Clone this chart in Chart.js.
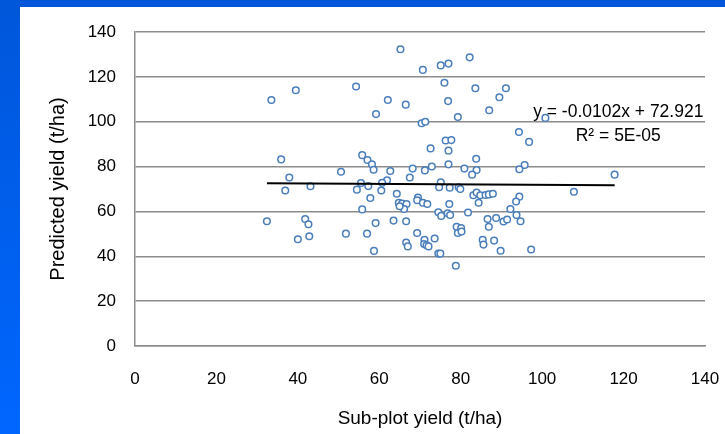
<!DOCTYPE html>
<html>
<head>
<meta charset="utf-8">
<script src="https://cdn.jsdelivr.net/npm/chart.js@4/dist/chart.umd.min.js"></script>
<style>
  html, body { margin: 0; padding: 0; }
  body { width: 725px; height: 434px; background: #0057da; position: relative; overflow: hidden; }
  #leftBand { position: absolute; left: 0; top: 7px; width: 20px; height: 427px; background: linear-gradient(#0057da, #0066ff); }
  #box { position: absolute; left: 20px; top: 7px; width: 705px; height: 427px; background: #fff; }
</style>
</head>
<body>
<div id="leftBand"></div>
<div id="box"><canvas id="myChart" width="705" height="427"></canvas></div>
<script>
// sub-plot yield (x) and predicted yield (y), t/ha
const subPlotYield = [
  33.5, 39.5, 54.3, 65.2, 70.7, 75.1, 77.0, 82.2, 76.0, 83.6,
  91.1, 89.5, 62.1, 66.5, 76.9, 59.2, 87.0, 79.3, 70.4, 71.3,
  100.8, 94.3, 96.8, 76.3, 77.7, 72.6, 77.0, 83.8, 77.0, 95.7,
  94.4, 117.8, 68.2, 72.9, 71.2, 80.9, 83.9, 82.8, 62.7, 67.5,
  55.8, 57.1, 58.2, 58.6, 61.9, 60.7, 55.5, 57.3, 60.5, 75.1,
  74.7, 77.3, 79.5, 79.9, 107.8, 64.3, 57.8, 83.1, 83.9, 84.8,
  86.1, 86.9, 87.9, 84.4, 94.4, 93.6, 69.5, 69.3, 70.7, 71.8,
  64.8, 65.6, 66.7, 66.1, 77.2, 92.2, 55.8, 74.5, 75.2, 76.8,
  77.4, 81.8, 93.7, 35.9, 37.9, 36.9, 43.1, 50.6, 54.5, 32.4,
  41.8, 42.6, 40.0, 42.8, 51.8, 59.1, 57.0, 58.7, 63.5, 66.6,
  69.3, 66.6, 67.0, 71.1, 71.0, 71.6, 72.1, 73.6, 74.5, 75.0,
  78.8, 79.0, 79.3, 80.1, 80.2, 86.6, 86.9, 85.4, 85.6, 88.2,
  88.7, 89.8, 90.5, 91.4, 94.7, 97.3, 65.0
];
const predictedYield = [
  109.7, 114.0, 115.7, 132.3, 123.1, 125.1, 125.9, 128.7, 117.4, 114.9,
  114.9, 110.9, 109.7, 107.6, 109.2, 103.4, 105.1, 102.1, 99.3, 100.0,
  101.7, 95.4, 91.0, 91.6, 91.8, 88.1, 87.1, 83.5, 81.0, 80.7,
  78.8, 76.4, 79.1, 80.0, 78.3, 79.1, 78.5, 76.4, 78.0, 75.1,
  85.1, 82.9, 81.0, 78.6, 73.9, 72.8, 72.7, 71.3, 69.3, 73.0,
  70.8, 70.6, 70.8, 70.0, 68.8, 67.9, 66.0, 67.2, 68.4, 67.2,
  67.3, 67.6, 67.9, 63.9, 66.6, 64.4, 66.2, 65.0, 63.9, 63.3,
  63.8, 63.5, 63.3, 61.1, 63.3, 61.1, 60.9, 59.6, 58.0, 59.2,
  58.4, 59.5, 58.4, 83.2, 75.1, 69.3, 71.2, 77.7, 69.7, 55.6,
  56.6, 54.3, 47.6, 48.9, 50.1, 54.8, 50.1, 42.4, 55.9, 55.6,
  50.4, 46.1, 44.4, 47.4, 45.5, 44.9, 44.4, 47.9, 41.2, 41.2,
  35.8, 53.2, 50.4, 52.6, 51.0, 56.6, 53.2, 47.3, 45.2, 47.0,
  57.1, 42.5, 55.5, 56.4, 55.6, 43.0, 62.3
];

// linear trendline as printed on the chart
const trendSlope = -0.0102;
const trendIntercept = 72.921;
const trendX = [32.4, 117.8];
const trendLabel = ['y = -0.0102x + 72.921', 'R\u00b2 = 5E-05'];

const axisTicks = [0, 20, 40, 60, 80, 100, 120, 140];

const FONT = "'Liberation Sans', Arial, sans-serif";
const GRID = '#8c8c8c';

const points = subPlotYield.map((x, i) => ({x: x, y: predictedYield[i]}));
const trendPoints = trendX.map(x => ({x: x, y: trendSlope * x + trendIntercept}));

// draws the equation text near the trendline
const trendText = {
  id: 'trendText',
  afterDatasetsDraw(chart) {
    const ctx = chart.ctx;
    const xs = chart.scales.x, ys = chart.scales.y;
    ctx.save();
    ctx.fillStyle = '#000';
    ctx.font = '17.5px ' + FONT;
    ctx.textAlign = 'center';
    ctx.textBaseline = 'middle';
    ctx.fillText(trendLabel[0], xs.getPixelForValue(118.7), ys.getPixelForValue(104.3));
    ctx.fillText(trendLabel[1], xs.getPixelForValue(118.7), ys.getPixelForValue(93.6));
    ctx.restore();
  }
};

new Chart('myChart', {
  type: 'scatter',
  data: {
    datasets: [{
      data: points,
      pointStyle: 'circle',
      pointRadius: 3.3,
      pointBorderWidth: 1.5,
      pointBorderColor: '#4a7ebb',
      pointBackgroundColor: '#ffffff',
      order: 2
    }, {
      type: 'line',
      data: trendPoints,
      borderColor: '#000000',
      borderWidth: 2,
      pointRadius: 0,
      fill: false,
      order: 1
    }]
  },
  options: {
    responsive: false,
    animation: false,
    layout: {padding: {top: 25, right: 20, left: 0, bottom: 0}},
    plugins: {legend: {display: false}, tooltip: {enabled: false}},
    scales: {
      x: {
        type: 'linear',
        min: 0, max: 140,
        afterBuildTicks: s => { s.ticks = axisTicks.map(v => ({value: v})); },
        afterFit: s => { s.height = 88; s.paddingLeft = 0; s.paddingRight = 0; },
        grid: {display: false, drawTicks: false},
        border: {display: true, color: GRID, width: 1.5},
        ticks: {color: '#000', padding: 23, font: {family: FONT, size: 17}},
        title: {display: true, text: 'Sub-plot yield (t/ha)', color: '#000',
                padding: {top: 0, bottom: 4}, font: {family: FONT, size: 19}}
      },
      y: {
        type: 'linear',
        min: 0, max: 140,
        afterBuildTicks: s => { s.ticks = axisTicks.map(v => ({value: v})); },
        afterFit: s => { s.width = 115; s.paddingTop = 0; s.paddingBottom = 0; },
        grid: {color: GRID, lineWidth: 1.5, drawTicks: false},
        border: {display: true, color: GRID, width: 1.5},
        ticks: {color: '#000', padding: 19, font: {family: FONT, size: 17}},
        title: {display: true, text: 'Predicted yield (t/ha)', color: '#000',
                padding: {top: 26.5, bottom: 0}, font: {family: FONT, size: 20}}
      }
    }
  },
  plugins: [trendText]
});
</script>
</body>
</html>
